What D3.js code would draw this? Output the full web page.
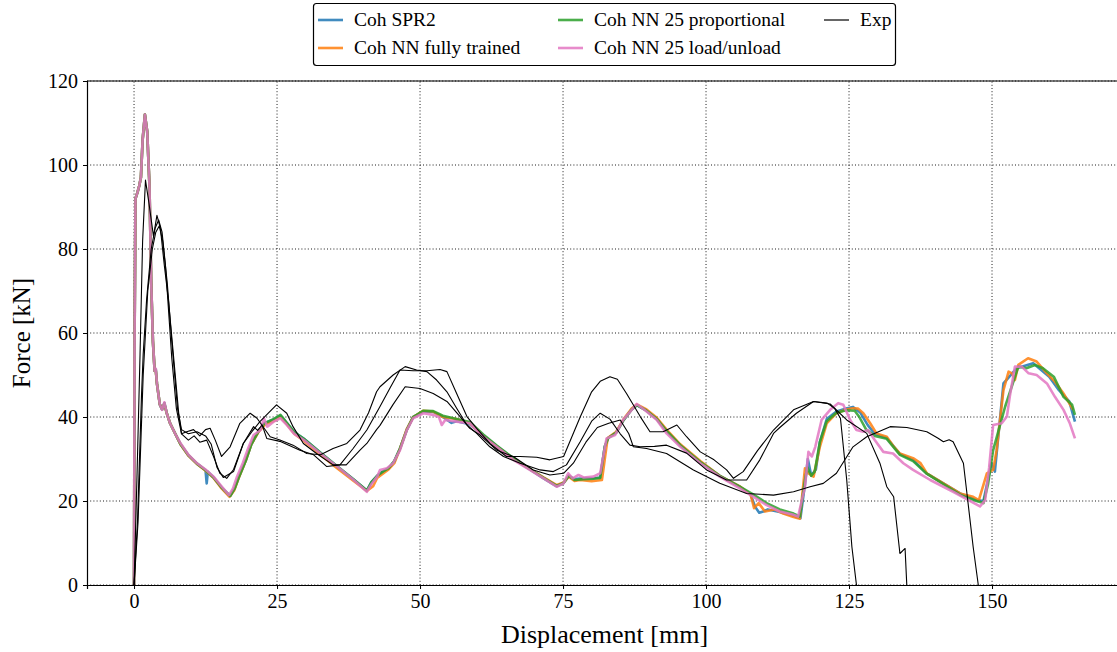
<!DOCTYPE html>
<html>
<head>
<meta charset="utf-8">
<script src="https://cdn.jsdelivr.net/npm/d3@7"></script>
<style>
  body { margin: 0; background: #fff; }
  svg text { font-family: "Liberation Serif", "Times New Roman", serif; fill: #000; }
</style>
</head>
<body>
<div id="chart"></div>
<script>
// displacement [mm], force [kN]

var xTicks = [0, 25, 50, 75, 100, 125, 150];
var yTicks = [0, 20, 40, 60, 80, 100, 120];

var seriesNames = ["Coh SPR2", "Coh NN fully trained", "Coh NN 25 proportional", "Coh NN 25 load/unload", "Exp"];
var seriesColors = ["#1f77b4", "#ff7f0e", "#2ca02c", "#e377c2", "#000000"];

var cohSpr2 = [[0,0],[0.1,60],[0.25,92],[0.6,93.5],[0.9,95],[1.2,97],[1.5,106],[1.9,112],[2.3,108],[2.7,95],[3.0,72],[3.3,58],[3.6,51],[3.8,51.3],[4.0,48],[4.5,43],[4.9,41.8],[5.3,43.3],[5.7,41],[6.3,38.5],[7.2,36],[8.1,33.6],[9.5,30.9],[11,28.9],[12.5,27.3],[12.7,24.2],[12.9,27],[13.9,25.6],[15.3,23.2],[16.8,21.2],[17.6,23],[18.3,25.6],[19.5,29.5],[20.5,33.5],[21.8,36.7],[22.8,38.5],[24.4,39.4],[25.6,40.3],[26.7,38.6],[28,36.4],[29.7,34.8],[32.6,31.5],[35.5,28.3],[38.4,25.1],[40.7,22.5],[41.5,24.5],[42.5,26],[43.5,27],[44.5,27.8],[45.5,29.5],[46.5,32.5],[47.7,37],[48.8,40],[50.6,41.3],[52.3,41.2],[54,40],[55.5,38.6],[56.4,39],[58.7,38.3],[61.1,35.6],[63.4,33.1],[66.3,30.1],[69.2,27.5],[71.6,25.4],[73.9,23.5],[75.1,24.3],[76,26],[77,25.2],[78.6,25.4],[80.3,25.4],[81.5,25.6],[82.3,33],[82.9,35],[84.3,36.3],[85.6,39.3],[87,41.8],[87.9,42.8],[89.6,41.5],[91.4,39.5],[93.1,36.7],[95.5,33.3],[99,29.3],[102.4,26],[105.9,23.4],[107.8,21.5],[108.6,18.6],[109.3,17.2],[110,17.5],[110.8,18],[112.9,17.4],[115.3,16.5],[116.5,15.9],[117.3,24],[117.8,30],[118.4,26],[119.2,27.5],[119.9,34],[121.1,39.5],[122.8,41.3],[124.5,42],[125.7,42.4],[127,41],[128.3,38],[129.5,36],[131.6,35],[133.9,31.2],[136.2,29.8],[138.6,26.5],[141.5,24.2],[144.4,21.8],[147.3,20.2],[148.5,20],[149.9,29],[150.5,27],[152,48],[154.3,51.6],[157.2,52.8],[160,49.6],[161.7,46.4],[163.5,43.7],[164.5,38.9]];

var cohNnFull = [[0,0],[0.1,60],[0.25,92],[0.6,93.5],[0.9,95],[1.2,97],[1.5,106],[1.9,112],[2.3,108],[2.7,95],[3.0,72],[3.3,58],[3.6,51],[3.8,51],[4.0,48],[4.5,43],[4.9,42],[5.3,43],[5.7,41],[6.3,38.5],[7.2,36],[8.1,33.5],[9.5,30.8],[11,28.8],[12.5,27.2],[13.9,25.5],[15.3,23],[16.7,21],[17.5,22.5],[18.3,25.5],[19.5,29.5],[20.5,33.5],[21.8,36.5],[23,38.3],[24.4,39],[25.6,40],[26.7,38.3],[28,36],[29.7,34.3],[32.6,31],[35.5,27.8],[38.4,24.8],[40.7,22.4],[41.8,23.5],[42.5,25.5],[43.5,26.5],[44.5,27.5],[45.5,29],[46.5,32.5],[47.7,37.2],[48.8,40],[50.6,41.5],[52.3,41.3],[54,40],[56.4,39.5],[58.7,38.5],[61.1,35.5],[63.4,33],[66.3,30],[69.2,27.6],[71.6,25.6],[73.9,23.8],[75.1,24.4],[76,25.8],[77,24.8],[78,25],[80,24.7],[81.8,25],[82.3,30],[82.8,35],[84.3,36.5],[85.6,39.5],[87,42],[87.9,43],[89.6,41.8],[91.4,39.8],[93.1,37],[95.5,33.5],[99,29.5],[102.4,26],[105.9,23.5],[107.8,21.5],[108.4,18.3],[109.2,19.5],[110.3,17.5],[112,18],[113.5,17],[115.3,16.2],[116.4,15.8],[117.3,27.8],[118,26.5],[118.8,25.8],[119.9,32.9],[121.1,38.5],[122.8,40.9],[124.5,41.8],[125.7,42.1],[126.6,42],[127.5,40.9],[128.7,38.5],[129.8,36.1],[131.6,35.3],[132.8,33],[133.9,31.3],[136.2,30.2],[137.5,29],[138.6,26.6],[141.5,24.2],[144.4,21.8],[146.7,21],[147.7,20.2],[149.1,26.6],[150.2,27.4],[150.8,32.1],[152,46.4],[152.9,50.8],[153.5,50.4],[154,48.8],[154.6,52.4],[156.3,54],[157.8,53.2],[159.6,50.4],[161,48.4],[162.5,45.6],[164.2,41.7]];

var cohNn25Prop = [[0,0],[0.1,60],[0.25,92],[0.6,93.5],[0.9,95],[1.2,97],[1.5,106],[1.9,112],[2.3,108],[2.7,95],[3.0,72],[3.3,58],[3.6,51],[3.8,51.3],[4.0,48],[4.5,43],[4.9,41.8],[5.3,43.3],[5.7,41],[6.3,38.5],[7.2,36],[8.1,33.6],[9.5,30.9],[11,28.9],[12.5,27.3],[13.9,25.6],[15.3,23.2],[16.8,21.2],[17.6,23],[18.3,25.6],[19.5,29.5],[20.5,33.5],[21.8,36.7],[22.8,38.5],[24.4,39.5],[25.6,40.5],[26.7,38.6],[28,36.4],[29.7,34.8],[32.6,31.5],[35.5,28.3],[38.4,25.1],[40.7,22.5],[41.5,24.5],[42.5,26],[43.5,27],[44.5,27.8],[45.5,29.5],[46.5,32.5],[47.7,37],[48.8,40],[50.6,41.5],[52.3,41.4],[54,40.3],[56.4,39.5],[58.7,38.8],[61.1,35.8],[63.4,33.2],[66.3,30.2],[69.2,27.6],[71.6,25.5],[73.9,23.6],[75.1,24.3],[76,26],[77,25],[78.6,25.2],[80.3,25.3],[81.5,25.5],[82.3,33],[82.9,35],[84.3,36.3],[85.6,39.3],[87,41.8],[87.9,42.8],[89.6,41.5],[91.4,39.5],[93.1,36.7],[95.5,33.3],[99,29.3],[102.4,26],[105.9,23.4],[108.3,21.5],[110.6,19.5],[112.9,18],[115.3,17],[116.4,16.3],[117.3,25],[117.7,28],[118.4,26],[119,27],[119.9,34],[121.1,39],[122.8,41],[124.5,41.6],[126,41.5],[126.8,40],[128,37],[129.5,35.5],[131.6,34.8],[133.9,31],[136.2,29.5],[138.6,26.5],[141.5,24],[144.4,21.5],[147.3,20],[148.5,19.5],[149.3,24],[150.2,32.1],[152.3,42.5],[154.6,52],[156,51.6],[157.5,52.4],[158.9,51.6],[160.8,49.6],[162.5,44.8],[164,42.9],[164.5,40.5]];

var cohNn25Load = [[0,0],[0.1,60],[0.25,92],[0.6,93.5],[0.9,95],[1.2,97],[1.5,106],[1.9,112],[2.3,108],[2.7,95],[3.0,72],[3.3,58],[3.6,51],[3.8,51.5],[4.0,48],[4.5,43],[4.9,41.7],[5.3,43.5],[5.7,41],[6.3,38.5],[7.2,36],[8.1,33.8],[9.5,31],[11,29],[12.5,27.5],[13.9,25.8],[15.3,23.5],[16.6,21.4],[17.3,23],[18,25.8],[19,29],[19.8,32],[20.9,35.7],[22.1,36.9],[22.7,39.7],[23.3,37.7],[24.4,38.9],[25.6,39.7],[26.7,38.1],[28,36],[29.7,34.5],[32.6,31.3],[35.5,28.2],[38.4,25],[40.7,22.2],[41.5,24],[42.5,25.8],[43,27.4],[44.2,27.8],[45.3,29],[46.5,32.1],[47.7,36.9],[48.8,39.7],[50.6,40.9],[52.3,40.5],[53.3,40],[53.8,38.1],[54.4,39.3],[56.4,38.9],[58.7,38.5],[61.1,35.3],[63.4,32.9],[66.3,29.8],[69.2,27.4],[71.6,25.4],[73.9,23.4],[75.1,24.2],[75.9,26.6],[76.7,25.4],[77.7,26.2],[78.6,25.6],[80.3,25.8],[81.5,26.6],[82.6,34.9],[84.1,35.7],[85.5,39.3],[87,41.7],[87.9,43.1],[89.6,41.3],[91.4,39.3],[93.1,36.1],[95.5,32.9],[99,29],[102.4,25.8],[105.9,23],[108.3,21],[110.6,19],[112.9,17.5],[115.3,16.7],[116.1,16.3],[117.3,23.4],[117.9,31.7],[118.5,30.6],[119.1,32.9],[120.2,39.3],[121.7,41.7],[123.1,43.3],[124,42.9],[125.2,39.3],[126.3,36.9],[127.5,36.5],[128.3,36.9],[129.5,34.5],[131,31.7],[132.7,31.3],[134.5,29],[136.2,27.4],[139.2,25],[143.2,22.2],[147.9,18.7],[148.8,20.2],[149.5,28],[150.2,38.1],[151.7,38.5],[152.6,40.1],[153.1,44.8],[154,52],[155.2,52],[156.4,50.4],[157.8,50],[159.6,48],[161,44.8],[162.5,41.7],[163.6,38.5],[164.5,34.9]];

var exp1 = [[0,0],[0.5,25],[1.05,55],[1.5,82],[2.0,96.4],[2.6,91],[3.4,83],[4.0,88],[4.6,85],[5.3,76],[6.0,68],[7.0,53],[7.8,41],[8.3,36],[9.2,36.5],[10.4,37],[11.5,35.5],[12.5,37],[13.3,37.3],[14.2,34.5],[15.3,30.6],[16.8,32.9],[18.5,38.5],[20.3,40.9],[21.5,39.7],[23.8,35.3],[25.5,34.5],[27.8,33.3],[30.2,31.3],[32.6,31],[34.8,32.5],[37.2,33.7],[39.5,36.9],[41,41],[42.4,46],[43,47.2],[45.3,50],[47.4,52],[49.4,51.2],[51.2,50.8],[52.9,48.8],[54.7,46],[56.4,42.1],[58.2,38.1],[59.9,36.1],[62.2,32.9],[64.6,30.6],[67.5,29],[71,27.4],[73.3,27],[75.6,28.6],[78,34.1],[80,39],[81.5,40.9],[83.2,39.5],[85,36],[86.7,33.3],[88.5,32.9],[91,33],[93.1,33.3],[96.6,31.4],[100.1,27.4],[103.6,25],[107.1,25],[109.4,29.8],[111.8,36.1],[112.9,37.5],[115.8,40.9],[118.8,43.7],[121.7,43.1],[124.6,39.3],[128.1,36.1],[130.4,29],[131.6,23.4],[132.8,21],[133.9,7.5],[134.8,8.7],[135.1,0]];

var exp2 = [[0,0],[0.6,15],[1.3,45],[1.6,55],[2.2,68],[3.0,80],[3.7,85],[4.3,86.9],[4.9,84],[5.5,76],[6.6,54],[7.4,42],[8.3,36],[9.5,34.5],[10.5,35.5],[11.5,34],[12.7,34.5],[13.9,30.6],[15,26.6],[16.2,25.4],[17.4,27.5],[19.1,33.7],[20.9,37.7],[21.6,36.8],[22.4,38.1],[23.2,34.9],[25.5,34.2],[29,32.1],[31.4,31],[33.7,28.2],[36,28.6],[38.3,32.5],[40.7,36.9],[43,42.5],[44.8,47],[46.5,51.2],[48.8,51],[51.2,51],[53.5,51.3],[54.7,50.8],[56.4,45.6],[58.2,40.1],[59.9,37.3],[62.2,33.7],[65.1,30.6],[67.5,30.6],[70.4,30.4],[72.7,29.8],[75.1,30.6],[78,40],[80,46],[81.5,48.5],[83.2,49.6],[84.5,49],[86.1,45.6],[88.5,40.1],[90.2,36.5],[92.5,36.5],[94.9,38.1],[96.6,35.3],[99,31.7],[101.4,29.8],[103.6,27.4],[104.8,25.4],[106.5,27],[109,32],[111.8,36.9],[115.3,41.7],[118.8,43.7],[121.2,43.3],[122.5,42],[123.5,39.7],[124.6,25],[125.5,9.1],[126.3,0]];

var exp3 = [[0,0],[0.7,15],[1.6,50],[2.4,70],[3.2,80],[3.8,84],[4.4,85.5],[5.0,82],[5.8,72],[6.6,58],[7.6,42],[8.3,37],[9.5,36],[11,36.5],[12.5,35.5],[13.5,33.5],[14.5,28],[15.6,25.6],[17.4,27],[19.1,33.7],[20.6,36.5],[22,38.9],[24.9,42.9],[26.7,40.9],[27.8,37.7],[29.6,33.7],[31.9,31.3],[34.8,28.6],[37.1,28.6],[39.5,32.1],[40.7,33.7],[42.4,37],[43,38],[45.3,43],[47.4,47.2],[50,46.8],[52.3,45.6],[54.7,43.7],[57,40.1],[58.7,37.3],[60.5,35.7],[63.4,32.1],[66.3,30.6],[69.8,27.4],[72.7,26.2],[75.1,26.6],[76.8,29],[79,34],[81,37.5],[83,38.5],[85,39.3],[86.5,36],[87.3,32.9],[89.6,32.5],[93.1,31.3],[97.8,27.4],[102.4,24.2],[107.1,21.8],[111.8,21.4],[115.3,22.2],[118.2,23.4],[120.5,24.2],[122.8,26.6],[125.7,32.9],[128.1,35.3],[132.2,37.7],[135.1,37.5],[138.6,36.5],[140.5,35],[141.5,34.1],[142.5,34.6],[143.2,34.1],[145,29],[146.7,9.1],[147.6,0]];

var width = 1117, height = 652;
var margin = { left: 87, top: 81, bottom: 67 };
var plotRight = 1122;

var svg = d3.select("#chart").append("svg")
	.attr("width", width)
	.attr("height", height);

var x = d3.scaleLinear().domain([-8.225, 172.725]).range([margin.left, plotRight]);
var y = d3.scaleLinear().domain([0, 120]).range([height - margin.bottom, margin.top]);

svg.append("defs").append("clipPath").attr("id", "clip")
	.append("rect")
	.attr("x", x.range()[0]).attr("y", y.range()[1])
	.attr("width", x.range()[1] - x.range()[0])
	.attr("height", y.range()[0] - y.range()[1]);

// grid
var grid = svg.append("g").attr("class", "grid");
grid.selectAll("line.gx").data(xTicks).enter().append("line")
	.attr("x1", function(d) { return x(d); }).attr("x2", function(d) { return x(d); })
	.attr("y1", y(0)).attr("y2", y(120))
	.attr("stroke", "#000").attr("stroke-width", 0.9).attr("stroke-dasharray", "1,2.2");
grid.selectAll("line.gy").data(yTicks).enter().append("line")
	.attr("x1", x.range()[0]).attr("x2", x.range()[1])
	.attr("y1", function(d) { return y(d); }).attr("y2", function(d) { return y(d); })
	.attr("stroke", "#000").attr("stroke-width", 0.9).attr("stroke-dasharray", "1,2.2");

var line = d3.line()
	.x(function(d) { return x(d[0]); })
	.y(function(d) { return y(d[1]); });

var curves = svg.append("g").attr("clip-path", "url(#clip)");
var sims = [cohSpr2, cohNnFull, cohNn25Prop, cohNn25Load];
sims.forEach(function(s, i) {
	curves.append("path")
		.attr("d", line(s))
		.attr("fill", "none")
		.attr("stroke", seriesColors[i])
		.attr("stroke-opacity", 0.85)
		.attr("stroke-width", 2.6)
		.attr("stroke-linejoin", "round");
});
[exp1, exp2, exp3].forEach(function(s) {
	curves.append("path")
		.attr("d", line(s))
		.attr("fill", "none")
		.attr("stroke", "#000")
		.attr("stroke-width", 1.1)
		.attr("stroke-linejoin", "round");
});

// axes
var xAxis = svg.append("g")
	.attr("transform", "translate(0," + y(0) + ")")
	.call(d3.axisBottom(x).tickValues(xTicks).tickSize(4).tickPadding(5));
var yAxis = svg.append("g")
	.attr("transform", "translate(" + x.range()[0] + ",0)")
	.call(d3.axisLeft(y).tickValues(yTicks).tickSize(4).tickPadding(5));
[xAxis, yAxis].forEach(function(a) {
	a.select(".domain").attr("stroke", "#000").attr("stroke-width", 1.2);
	a.selectAll(".tick line").attr("stroke", "#000").attr("stroke-width", 1);
	a.selectAll(".tick text").attr("font-size", 20).attr("font-family", "Liberation Serif");
});
svg.append("line")
	.attr("x1", x.range()[0]).attr("x2", x.range()[1])
	.attr("y1", y(120)).attr("y2", y(120))
	.attr("stroke", "#000").attr("stroke-width", 1.2);

svg.append("text")
	.attr("x", (x.range()[0] + x.range()[1]) / 2)
	.attr("y", 643)
	.attr("text-anchor", "middle")
	.attr("font-size", 26)
	.text("Displacement [mm]");

svg.append("text")
	.attr("transform", "translate(30," + y(60) + ") rotate(-90)")
	.attr("text-anchor", "middle")
	.attr("font-size", 25)
	.text("Force [kN]");

// legend
var legend = svg.append("g");
legend.append("rect")
	.attr("x", 313.5).attr("y", 3.5).attr("width", 582).attr("height", 62)
	.attr("rx", 3).attr("fill", "#fff").attr("stroke", "#000").attr("stroke-width", 1.2);
var legendPos = [[318, 20], [318, 48], [558, 20], [558, 48], [824, 20]];
seriesNames.forEach(function(name, i) {
	var p = legendPos[i];
	legend.append("line")
		.attr("x1", p[0]).attr("x2", p[0] + 25)
		.attr("y1", p[1]).attr("y2", p[1])
		.attr("stroke", seriesColors[i])
		.attr("stroke-opacity", i < 4 ? 0.85 : 1)
		.attr("stroke-width", i < 4 ? 2.6 : 1.2);
	legend.append("text")
		.attr("x", p[0] + 36).attr("y", p[1] + 6)
		.attr("font-size", 19.5)
		.text(name);
});
</script>
</body>
</html>
